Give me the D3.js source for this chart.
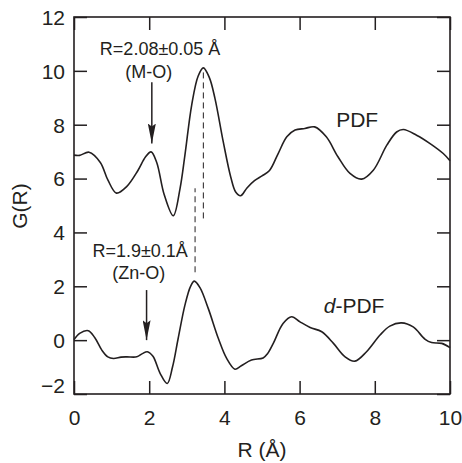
<html>
    <head>
        <style>
            body { margin: 0; background: #fff; }
            text { font-family: "Liberation Sans", Arial, sans-serif; fill: #231f20; }
        </style>
        <script src="https://cdnjs.cloudflare.com/ajax/libs/d3/7.8.5/d3.min.js"></script>
    </head>
    <body>
        <script>
            // R (Å) and G(R)
            const pdfR = [0, 0.15, 0.4, 0.7, 0.9, 1.13, 1.4, 1.7, 1.9, 2.05, 2.2, 2.4, 2.64, 2.82, 2.95, 3.13, 3.3, 3.44, 3.6, 3.75, 3.97, 4.17, 4.3, 4.43, 4.6, 4.8, 5.0, 5.2, 5.43, 5.66, 5.88, 6.14, 6.4, 6.71, 7.02, 7.34, 7.65, 7.96, 8.32, 8.58, 8.76, 9.11, 9.47, 9.82, 10];
            const pdfG = [6.87, 6.86, 6.98, 6.6, 5.95, 5.46, 5.7, 6.3, 6.8, 6.99, 6.6, 5.4, 4.62, 5.63, 6.87, 8.73, 9.8, 10.11, 9.75, 8.97, 7.36, 6.05, 5.5, 5.36, 5.65, 5.92, 6.1, 6.3, 6.93, 7.55, 7.8, 7.86, 7.92, 7.55, 6.81, 6.19, 5.98, 6.31, 7.24, 7.73, 7.82, 7.61, 7.3, 6.93, 6.66];

            const dpdfR = [0, 0.15, 0.38, 0.55, 0.74, 0.9, 1.05, 1.25, 1.4, 1.67, 1.82, 1.95, 2.1, 2.29, 2.48, 2.62, 2.77, 2.95, 3.1, 3.2, 3.35, 3.57, 3.84, 4.06, 4.28, 4.45, 4.72, 5.03, 5.15, 5.3, 5.56, 5.79, 6.01, 6.28, 6.59, 6.9, 7.21, 7.47, 7.78, 8.14, 8.4, 8.71, 9.02, 9.34, 9.51, 9.78, 10];
            const dpdfG = [0.02, 0.25, 0.35, 0.1, -0.37, -0.62, -0.68, -0.63, -0.62, -0.62, -0.5, -0.43, -0.6, -1.23, -1.61, -1.0, 0.06, 1.3, 2.0, 2.19, 1.95, 1.18, 0.06, -0.68, -1.08, -0.95, -0.74, -0.66, -0.5, -0.12, 0.62, 0.87, 0.68, 0.47, 0.31, -0.12, -0.62, -0.78, -0.43, 0.19, 0.52, 0.64, 0.49, 0.03, -0.09, -0.12, -0.28];

            const xTicks = [0, 2, 4, 6, 8, 10];
            const yTicks = [-2, 0, 2, 4, 6, 8, 10, 12];

            // dashed peak markers: R, from G, to G
            const peakLines = [
                { r: 3.44, g0: 4.52, g1: 9.96 },
                { r: 3.22, g0: 2.52, g1: 5.64 }
            ];
            // arrows: R, from G, to G
            const arrows = [
                { r: 2.07, g0: 9.58, g1: 7.3 },
                { r: 1.93, g0: 1.86, g1: 0.0 }
            ];
            const notes = [
                { r: 2.29, g: 10.58, text: 'R=2.08±0.05 Å' },
                { r: 1.99, g: 9.73, text: '(M-O)' },
                { r: 1.76, g: 3.08, text: 'R=1.9±0.1Å' },
                { r: 1.72, g: 2.27, text: '(Zn-O)' }
            ];

            const W = 462, H = 463;
            const margin = { top: 17, right: 12, bottom: 69, left: 74 };
            const w = W - margin.left - margin.right;
            const h = H - margin.top - margin.bottom;

            const svg = d3.select('body').append('svg')
                .attr('width', W)
                .attr('height', H);
            const g = svg.append('g')
                .attr('transform', `translate(${margin.left},${margin.top})`);

            const x = d3.scaleLinear().domain([0, 10]).range([0, w]);
            const y = d3.scaleLinear().domain([-2, 12]).range([h, 0]);

            const tick = 13;
            const styleAxis = sel => {
                sel.select('.domain').remove();
                sel.selectAll('line').attr('stroke', '#231f20').attr('stroke-width', 1.5);
                sel.selectAll('text').attr('font-size', 21).attr('fill', '#231f20')
                    .attr('font-family', '"Liberation Sans", Arial, sans-serif');
            };

            g.append('g').attr('transform', `translate(0,${h})`)
                .call(d3.axisBottom(x).tickValues(xTicks).tickSizeInner(-tick).tickSizeOuter(0).tickPadding(16))
                .call(styleAxis);
            g.append('g')
                .call(d3.axisTop(x).tickValues(xTicks).tickSizeInner(-tick).tickSizeOuter(0).tickFormat(''))
                .call(styleAxis);
            const yAx = g.append('g')
                .call(d3.axisLeft(y).tickValues(yTicks).tickSizeInner(-tick).tickSizeOuter(0).tickPadding(9))
                .call(styleAxis);
            yAx.selectAll('.tick text').attr('dy', d => d === -2 ? '-0.05em' : '0.35em');
            g.append('g').attr('transform', `translate(${w},0)`)
                .call(d3.axisRight(y).tickValues(yTicks).tickSizeInner(-tick).tickSizeOuter(0).tickFormat(''))
                .call(styleAxis);

            g.append('rect')
                .attr('width', w).attr('height', h)
                .attr('fill', 'none')
                .attr('stroke', '#231f20')
                .attr('stroke-width', 1.6);

            const line = d3.line()
                .x(d => x(d[0]))
                .y(d => y(d[1]))
                .curve(d3.curveCatmullRom.alpha(0.5));

            [[pdfR, pdfG], [dpdfR, dpdfG]].forEach(([rs, gs]) => {
                g.append('path')
                    .datum(rs.map((r, i) => [r, gs[i]]))
                    .attr('d', line)
                    .attr('fill', 'none')
                    .attr('stroke', '#231f20')
                    .attr('stroke-width', 1.6);
            });

            g.selectAll('.peak')
                .data(peakLines)
                .enter().append('line')
                .attr('x1', d => x(d.r)).attr('x2', d => x(d.r))
                .attr('y1', d => y(d.g0)).attr('y2', d => y(d.g1))
                .attr('stroke', '#231f20')
                .attr('stroke-width', 1)
                .attr('stroke-dasharray', '6,4');

            svg.append('defs').append('marker')
                .attr('id', 'head')
                .attr('viewBox', '0 0 8 20')
                .attr('refX', 4).attr('refY', 20)
                .attr('markerWidth', 8).attr('markerHeight', 20)
                .attr('markerUnits', 'userSpaceOnUse')
                .attr('orient', 0)
                .append('path')
                .attr('d', 'M0,0 L4,20 L8,0 L4,3 Z')
                .attr('fill', '#231f20');

            g.selectAll('.arrow')
                .data(arrows)
                .enter().append('line')
                .attr('x1', d => x(d.r)).attr('x2', d => x(d.r))
                .attr('y1', d => y(d.g0)).attr('y2', d => y(d.g1))
                .attr('stroke', '#231f20')
                .attr('stroke-width', 1.5)
                .attr('marker-end', 'url(#head)');

            g.selectAll('.note')
                .data(notes)
                .enter().append('text')
                .attr('x', d => x(d.r))
                .attr('y', d => y(d.g))
                .attr('text-anchor', 'middle')
                .attr('font-size', 18)
                .text(d => d.text);

            g.append('text')
                .attr('x', x(7.53)).attr('y', y(7.91))
                .attr('text-anchor', 'middle')
                .attr('font-size', 21)
                .text('PDF');

            const dl = g.append('text')
                .attr('x', x(7.45)).attr('y', y(1.0))
                .attr('text-anchor', 'middle')
                .attr('font-size', 21);
            dl.append('tspan').attr('font-style', 'italic').text('d');
            dl.append('tspan').text('-PDF');

            // axis titles
            g.append('text')
                .attr('x', w / 2).attr('y', h + 63)
                .attr('text-anchor', 'middle')
                .attr('font-size', 21)
                .text('R (Å)');
            g.append('text')
                .attr('transform', `translate(${27 - margin.left},${206 - margin.top}) rotate(-90)`)
                .attr('text-anchor', 'middle')
                .attr('font-size', 21)
                .text('G(R)');
        </script>
    </body>
</html>
